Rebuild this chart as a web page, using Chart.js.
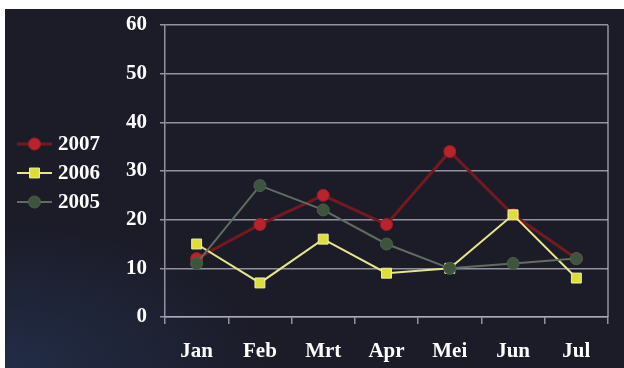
<!DOCTYPE html>
<html>
<head>
<meta charset="utf-8">
<script src="https://cdn.jsdelivr.net/npm/chart.js@4.4.1/dist/chart.umd.min.js"></script>
<style>
  html, body { margin: 0; padding: 0; background: #ffffff; width: 624px; height: 368px; overflow: hidden; }
  #c {
    position: absolute; left: 5px; top: 9px;
    background:
      radial-gradient(ellipse 260px 140px at 0% 100%, rgba(40,62,100,0.5), rgba(40,62,100,0) 100%),
      #1c1c29;
  }
</style>
</head>
<body>
<canvas id="c" width="619" height="359"></canvas>
<script>
// Monthly counts per year
const months = ['Jan', 'Feb', 'Mrt', 'Apr', 'Mei', 'Jun', 'Jul'];
const values2007 = [12, 19, 25, 19, 34, 21, 12];
const values2006 = [15, 7, 16, 9, 10, 21, 8];
const values2005 = [11, 27, 22, 15, 10, 11, 12];
const yTicks = [0, 10, 20, 30, 40, 50, 60];

const serif = "'Liberation Serif', 'Times New Roman', serif";
const gridColor = 'rgba(175,175,190,0.8)';

// Legend on the left: a short line with the series marker, then the label
const sideLegend = {
  id: 'sideLegend',
  afterDraw(chart) {
    const ctx = chart.ctx;
    const order = [0, 1, 2];
    const x0 = 12, x1 = 47, xt = 53;
    const rows = [135, 164, 193];
    ctx.save();
    order.forEach((di, i) => {
      const ds = chart.data.datasets[di];
      const y = rows[i];
      ctx.strokeStyle = ds.borderColor;
      ctx.lineWidth = ds.borderWidth;
      ctx.beginPath();
      ctx.moveTo(x0, y);
      ctx.lineTo(x1, y);
      ctx.stroke();
      ctx.fillStyle = ds.pointBackgroundColor;
      ctx.strokeStyle = ds.pointBorderColor;
      ctx.lineWidth = ds.pointBorderWidth;
      Chart.helpers.drawPoint(ctx, { pointStyle: ds.pointStyle, radius: ds.pointRadius, borderWidth: ds.pointBorderWidth }, (x0 + x1) / 2, y);
      ctx.fillStyle = '#ffffff';
      ctx.font = 'bold 21px ' + serif;
      ctx.textAlign = 'left';
      ctx.textBaseline = 'middle';
      ctx.fillText(ds.label, xt, y + 1);
    });
    ctx.restore();
  }
};

// Right edge of the plot frame
const plotFrame = {
  id: 'plotFrame',
  beforeDatasetsDraw(chart) {
    const { ctx, chartArea } = chart;
    ctx.save();
    ctx.strokeStyle = gridColor;
    ctx.lineWidth = 1.5;
    ctx.beginPath();
    ctx.moveTo(chartArea.right, chartArea.top);
    ctx.lineTo(chartArea.right, chartArea.bottom);
    ctx.stroke();
    ctx.restore();
  }
};

new Chart(document.getElementById('c'), {
  type: 'line',
  data: {
    labels: months,
    datasets: [
      {
        label: '2007',
        data: values2007,
        order: 2,
        borderColor: '#761820',
        borderWidth: 3,
        pointStyle: 'circle',
        pointRadius: 6,
        pointBackgroundColor: '#b8232c',
        pointBorderColor: '#a01e26',
        pointBorderWidth: 1
      },
      {
        label: '2006',
        data: values2006,
        order: 1,
        borderColor: '#e6e68a',
        borderWidth: 2,
        pointStyle: 'rect',
        pointRadius: 7,
        pointBackgroundColor: '#dede38',
        pointBorderColor: '#f2f2a8',
        pointBorderWidth: 1
      },
      {
        label: '2005',
        data: values2005,
        order: 0,
        borderColor: '#5f6e5f',
        borderWidth: 2,
        pointStyle: 'circle',
        pointRadius: 6,
        pointBackgroundColor: '#3c553c',
        pointBorderColor: '#4a604a',
        pointBorderWidth: 1
      }
    ]
  },
  options: {
    responsive: false,
    animation: false,
    events: [],
    layout: { padding: { top: 16, right: 16, left: 0, bottom: 0 } },
    elements: { line: { tension: 0 } },
    plugins: {
      legend: { display: false },
      tooltip: { enabled: false }
    },
    scales: {
      x: {
        type: 'category',
        offset: true,
        grid: {
          offset: true,
          drawOnChartArea: false,
          drawTicks: true,
          tickLength: 7,
          color: gridColor,
          lineWidth: 1.5
        },
        border: { color: gridColor, width: 1.5 },
        ticks: {
          color: '#ffffff',
          font: { family: serif, size: 21, weight: 'bold' },
          padding: 15,
          maxRotation: 0
        },
        afterFit(scale) {
          scale.height = 51;
          scale.paddingLeft = 0;
          scale.paddingRight = 0;
        }
      },
      y: {
        min: 0,
        max: 60,
        afterBuildTicks(scale) { scale.ticks = yTicks.map(v => ({ value: v })); },
        grid: {
          color: gridColor,
          lineWidth: 1.5,
          drawTicks: true,
          tickLength: 5
        },
        border: { color: gridColor, width: 1.5 },
        ticks: {
          color: '#ffffff',
          font: { family: serif, size: 21, weight: 'bold' },
          padding: 13
        },
        afterFit(scale) {
          scale.width = 160;
          scale.paddingTop = 0;
          scale.paddingBottom = 0;
        }
      }
    }
  },
  plugins: [sideLegend, plotFrame]
});
</script>
</body>
</html>
